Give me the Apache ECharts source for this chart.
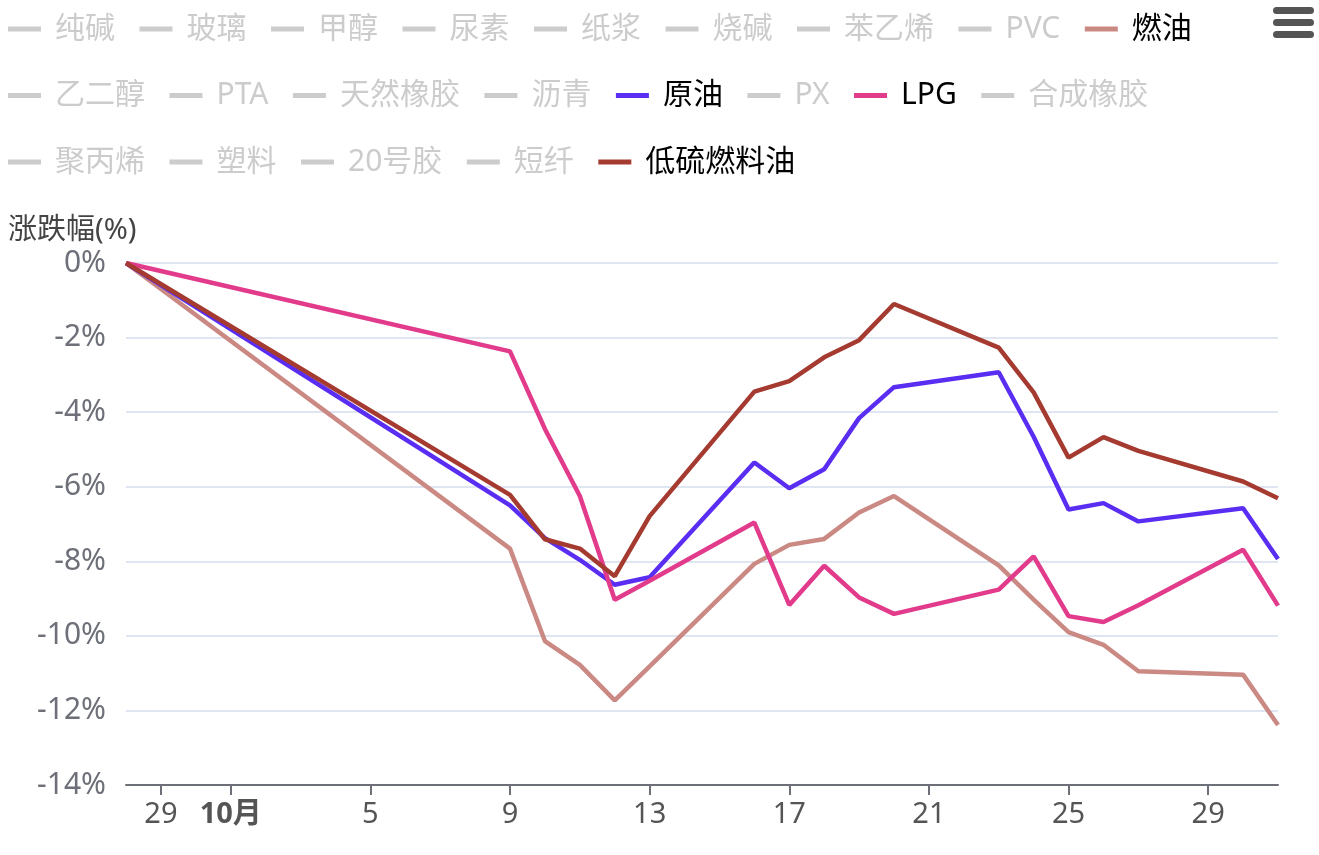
<!DOCTYPE html>
<html>
<head>
<meta charset="utf-8">
<script src="https://cdn.jsdelivr.net/npm/echarts@6.0.0/dist/echarts.min.js"></script>
<style>
html,body{margin:0;padding:0;background:#fff;}
#main{width:1319px;height:855px;}
</style>
</head>
<body>
<div id="main"></div>
<script>
// ---- data ----
const legendNames = ['纯碱','玻璃','甲醇','尿素','纸浆','烧碱','苯乙烯','PVC','燃油','乙二醇','PTA','天然橡胶','沥青','原油','PX','LPG','合成橡胶','聚丙烯','塑料','20号胶','短纤','低硫燃料油'];
const shownNames = ['燃油','原油','LPG','低硫燃料油'];
const dates = ['2023-09-28','2023-10-09','2023-10-10','2023-10-11','2023-10-12','2023-10-13','2023-10-16','2023-10-17','2023-10-18','2023-10-19','2023-10-20','2023-10-23','2023-10-24','2023-10-25','2023-10-26','2023-10-27','2023-10-30','2023-10-31'];
const crudeOil = [0, -6.50, -7.38, -7.96, -8.63, -8.43, -5.35, -6.04, -5.53, -4.16, -3.33, -2.93, -4.66, -6.61, -6.44, -6.93, -6.58, -7.94];
const lpg = [0, -2.37, -4.45, -6.25, -9.03, -8.52, -6.96, -9.17, -8.12, -8.97, -9.41, -8.76, -7.87, -9.47, -9.63, -9.18, -7.69, -9.19];
const fuelOil = [0, -7.66, -10.14, -10.78, -11.73, -10.82, -8.07, -7.56, -7.40, -6.69, -6.25, -8.11, -9.03, -9.90, -10.24, -10.95, -11.04, -12.39];
const lowSulfurFuelOil = [0, -6.22, -7.41, -7.66, -8.40, -6.79, -3.45, -3.17, -2.53, -2.07, -1.10, -2.27, -3.47, -5.22, -4.67, -5.04, -5.86, -6.31];
const xMin = '2023-09-28';
const xMax = '2023-10-31';
const yMin = -14, yMax = 0, yStep = 2;

const valuesByName = {'原油': crudeOil, 'LPG': lpg, '燃油': fuelOil, '低硫燃料油': lowSulfurFuelOil};
const colorsByName = {'原油': '#5A2EF2', 'LPG': '#E23B8C', '燃油': '#CB8984', '低硫燃料油': '#A53B30'};

const FONT = "'Noto Sans', 'Noto Sans CJK SC', sans-serif";

const selected = {};
legendNames.forEach(n => { selected[n] = shownNames.indexOf(n) >= 0; });

const series = legendNames.map(n => {
  const vals = valuesByName[n];
  const s = {
    name: n,
    type: 'line',
    symbol: 'none',
    showSymbol: false,
    data: vals ? dates.map((d, i) => [d, vals[i]]) : [],
    lineStyle: { width: 4.5 }
  };
  if (colorsByName[n]) { s.color = colorsByName[n]; s.itemStyle = { color: colorsByName[n] }; }
  return s;
});

const chart = echarts.init(document.getElementById('main'), null, { renderer: 'canvas', locale: 'ZH' });
chart.setOption({
  animation: false,
  backgroundColor: '#fff',
  textStyle: { fontFamily: FONT },
  legend: {
    data: legendNames,
    selected: selected,
    left: 8,
    top: 8,
    width: 1230,
    padding: 0,
    itemGap: 24.5,
    icon: 'rect',
    itemWidth: 33,
    itemHeight: 5,
    inactiveColor: '#ccc',
    textStyle: { fontSize: 30, color: '#000', fontFamily: FONT, lineHeight: 42, padding: [0, 0, 0, 9] }
  },
  toolbox: {
    right: 5,
    top: 7,
    padding: 0,
    itemSize: 41,
    feature: {
      myMenu: {
        show: true,
        title: '',
        icon: 'path://M3.5,0H37.5A3.5,3.5,0,0,1,37.5,7H3.5A3.5,3.5,0,0,1,3.5,0ZM3.5,12H37.5A3.5,3.5,0,0,1,37.5,19H3.5A3.5,3.5,0,0,1,3.5,12ZM3.5,24H37.5A3.5,3.5,0,0,1,37.5,31H3.5A3.5,3.5,0,0,1,3.5,24Z',
        onclick: function () {}
      }
    },
    iconStyle: { color: '#555', borderColor: '#555', borderWidth: 0 },
    emphasis: { iconStyle: { color: '#555', borderColor: '#555', borderWidth: 0 } }
  },
  grid: { left: 126, right: 41, top: 263, bottom: 70, containLabel: false },
  xAxis: {
    type: 'time',
    min: xMin,
    max: xMax,
    axisLine: { show: true, onZero: false, lineStyle: { color: '#6E7079', width: 2 } },
    axisTick: { show: true, length: 10, lineStyle: { color: '#6E7079', width: 2 } },
    axisLabel: { fontSize: 29, color: '#555', margin: 15, fontFamily: FONT },
    splitLine: { show: false }
  },
  yAxis: {
    type: 'value',
    min: yMin,
    max: yMax,
    interval: yStep,
    name: '涨跌幅(%)',
    nameLocation: 'end',
    nameGap: 18,
    nameTextStyle: { fontSize: 29, color: '#444', align: 'left', padding: [0, 0, 0, -118], fontFamily: FONT },
    axisLine: { show: false },
    axisTick: { show: false },
    axisLabel: { fontSize: 30, color: '#6E7079', margin: 20, formatter: '{value}%', fontFamily: FONT },
    splitLine: { show: true, lineStyle: { color: '#E0E6F1', width: 2 } }
  },
  series: series
});
</script>
</body>
</html>
